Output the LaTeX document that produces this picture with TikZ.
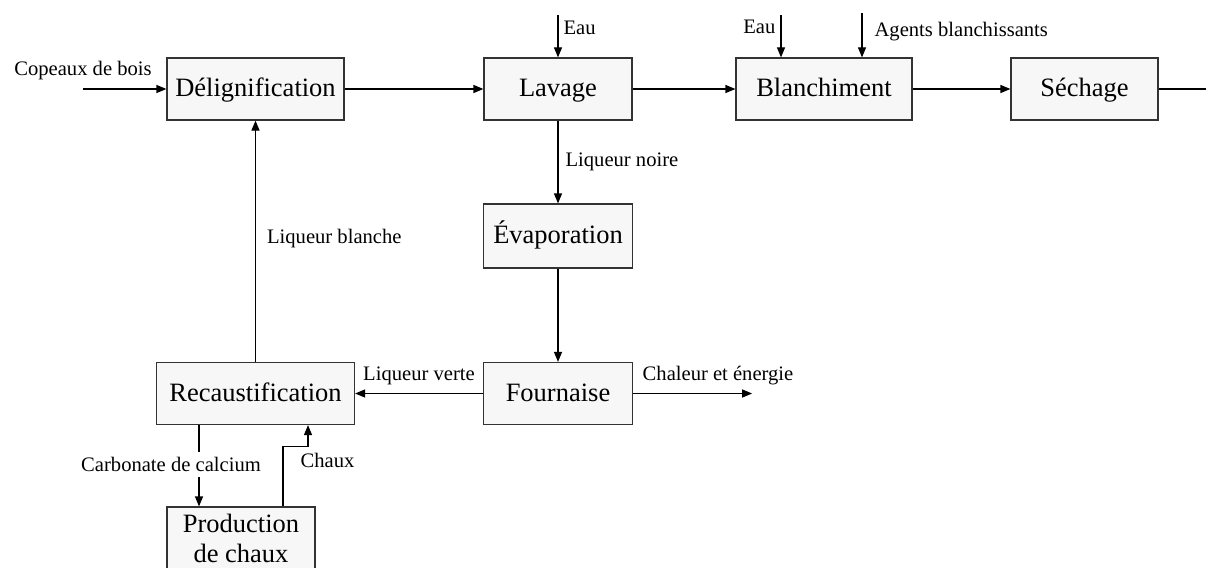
\documentclass[tikz,border=0pt]{standalone}
\usepackage{fontspec}
\setmainfont{Liberation Serif}
\usetikzlibrary{arrows.meta, positioning}

\tikzset{
	block/.style={draw=black!80, fill=gray!6, line width=1.2pt, minimum height=62pt, inner sep=0pt, font=\fontsize{26.5}{30}\selectfont},
	stage/.style={block, text height=19pt, text depth=4pt},
	lbl/.style={font=\fontsize{20.6}{24}\selectfont, inner sep=0pt},
}

\begin{document}
\begin{tikzpicture}[x=1pt, y=-1pt, on grid, >={Triangle[length=10pt,width=8pt]}, line width=1.2pt]
	\useasboundingbox (0,0) rectangle (1206,567);
	
	\node (delig) [stage, minimum width=177pt] at (255.5,89) {Délignification};
	\node (lav) [stage, minimum width=148pt, right=302.5pt of delig] {Lavage};
	\node (blan) [stage, minimum width=176pt, right=266pt of lav] {Blanchiment};
	\node (sech) [stage, minimum width=147pt, right=260.5pt of blan] {Séchage};
	\node (evap) [stage, minimum width=149pt, minimum height=64pt, below=147pt of lav] {Évaporation};
	\node (four) [stage, minimum width=149pt, below=157.5pt of evap] {Fournaise};
	\node (recau) [stage, minimum width=198pt, below=304.5pt of delig] {Recaustification};
	\node (prod) [block, minimum width=148pt, align=center, below left=144.5pt and 14.5pt of recau] {Production\\de chaux};
	
	\coordinate (wood) at (83,89);
	\coordinate (pulp) at (1206,89);
	\coordinate [above=42pt of lav.north] (eau1);
	\coordinate [above left=42pt and 43pt of blan.north] (eau2);
	\coordinate [above right=44pt and 38pt of blan.north] (agent);
	\coordinate [right=119pt of four.east] (heat);
	
	\path [->]
	(wood) edge node [lbl, pos=0, anchor=base, yshift=13pt] {Copeaux de bois} (delig)
	(delig) edge (lav)
	(lav) edge (blan)
	(blan) edge (sech)
	
	(eau1) edge node [lbl, pos=0, anchor=base west, xshift=5pt, yshift=-19pt] {Eau} (lav)
	(eau2) edge node [lbl, pos=0, anchor=base east, xshift=-5pt, yshift=-18pt] {Eau} (eau2 |- blan.north)
	(agent) edge node [lbl, pos=0, anchor=base west, xshift=12pt, yshift=-23pt] {Agents blanchissants} (agent |- blan.north)
	
	(lav) edge node [lbl, midway, anchor=west, xshift=7pt] {Liqueur noire} (evap)
	(evap) edge (four)
	
	(four) edge node [lbl, midway, anchor=base, yshift=13.5pt] {Liqueur verte} (recau)
	(four) edge node [lbl, pos=0, anchor=base west, xshift=9pt, yshift=13.5pt] {Chaleur et énergie} (heat)
	
	(recau) edge node [lbl, midway, anchor=west, xshift=11pt, yshift=3pt] {Liqueur blanche} (delig)
	([xshift=-56.5pt]recau.south) edge node [lbl, fill=white, inner ysep=5pt, pos=0.57, anchor=base, xshift=-28pt] {Carbonate de calcium} ([xshift=-56.5pt]recau.south |- prod.north);
	
	\draw (sech) -- (pulp);
	\draw [->] ([xshift=42pt]prod.north) -- node [lbl, pos=0.65, anchor=base west, xshift=17pt] {Chaux} ++(0,-60) -| ([xshift=52.5pt]recau.south);

\end{tikzpicture}
\end{document}
